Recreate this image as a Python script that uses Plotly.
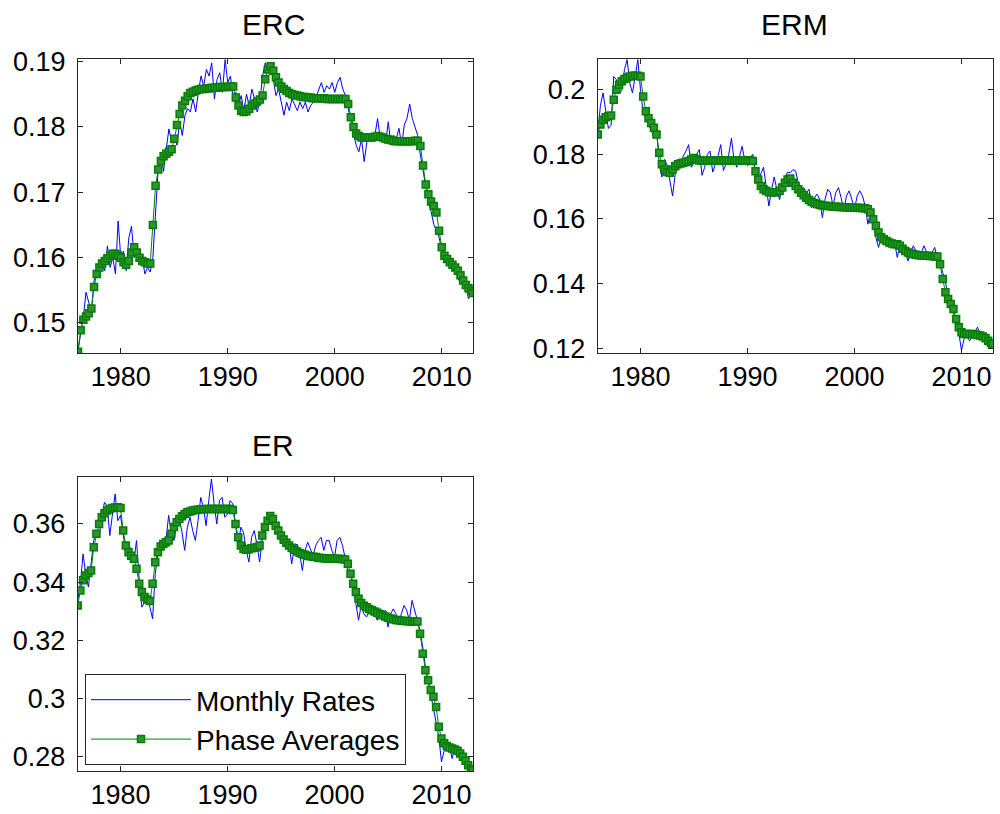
import plotly.graph_objects as go

# ---------------- data (quarterly readings, Jan 1976 .. Dec 2012) ----------------
YEARS = [1976 + q / 4 for q in range(148)] + [2012 + 11 / 12]

ERC_MONTHLY = [
    0.1458, 0.1485, 0.1510, 0.1547,  # 1976
    0.1530, 0.1517, 0.1565, 0.1575,  # 1977
    0.1575, 0.1590, 0.1580, 0.1618,  # 1978
    0.1585, 0.1600, 0.1575, 0.1656,  # 1979
    0.1600, 0.1610, 0.1580, 0.1630,  # 1980
    0.1648, 0.1600, 0.1610, 0.1590,  # 1981
    0.1600, 0.1575, 0.1585, 0.1578,  # 1982
    0.1600, 0.1661, 0.1737, 0.1757,  # 1983
    0.1732, 0.1767, 0.1797, 0.1777,  # 1984
    0.1787, 0.1772, 0.1808, 0.1787,  # 1985
    0.1818, 0.1828, 0.1823, 0.1843,  # 1986
    0.1823, 0.1853, 0.1878, 0.1863,  # 1987
    0.1888, 0.1878, 0.1898, 0.1843,  # 1988
    0.1873, 0.1883, 0.1853, 0.1903,  # 1989
    0.1868, 0.1878, 0.1843, 0.1853,  # 1990
    0.1833, 0.1848, 0.1825, 0.1850,  # 1991
    0.1833, 0.1858, 0.1843, 0.1823,  # 1992
    0.1838, 0.1878, 0.1898, 0.1888,  # 1993
    0.1888, 0.1873, 0.1848, 0.1858,  # 1994
    0.1838, 0.1818, 0.1838, 0.1825,  # 1995
    0.1843, 0.1833, 0.1825, 0.1838,  # 1996
    0.1828, 0.1838, 0.1823, 0.1833,  # 1997
    0.1838, 0.1846, 0.1858, 0.1868,  # 1998
    0.1853, 0.1863, 0.1858, 0.1868,  # 1999
    0.1853, 0.1868, 0.1876, 0.1858,  # 2000
    0.1848, 0.1828, 0.1808, 0.1793,  # 2001
    0.1772, 0.1762, 0.1782, 0.1747,  # 2002
    0.1777, 0.1785, 0.1782, 0.1787,  # 2003
    0.1813, 0.1782, 0.1787, 0.1775,  # 2004
    0.1808, 0.1772, 0.1787, 0.1782,  # 2005
    0.1798, 0.1772, 0.1803, 0.1813,  # 2006
    0.1835, 0.1813, 0.1800, 0.1787,  # 2007
    0.1757, 0.1732, 0.1707, 0.1686,  # 2008
    0.1671, 0.1651, 0.1641, 0.1631,  # 2009
    0.1611, 0.1598, 0.1601, 0.1590,  # 2010
    0.1580, 0.1585, 0.1570, 0.1560,  # 2011
    0.1565, 0.1555, 0.1537, 0.1545,  # 2012
    0.1550,
]
ERC_PHASE = [
    0.1456, 0.1489, 0.1505, 0.1510,  # 1976
    0.1515, 0.1522, 0.1555, 0.1575,  # 1977
    0.1585, 0.1591, 0.1595, 0.1599,  # 1978
    0.1603, 0.1606, 0.1606, 0.1603,  # 1979
    0.1600, 0.1593, 0.1589, 0.1595,  # 1980
    0.1608, 0.1616, 0.1608, 0.1600,  # 1981
    0.1595, 0.1593, 0.1591, 0.1591,  # 1982
    0.1650, 0.1710, 0.1735, 0.1748,  # 1983
    0.1755, 0.1759, 0.1762, 0.1766,  # 1984
    0.1782, 0.1803, 0.1820, 0.1833,  # 1985
    0.1840, 0.1847, 0.1852, 0.1854,  # 1986
    0.1856, 0.1857, 0.1858, 0.1858,  # 1987
    0.1859, 0.1859, 0.1860, 0.1860,  # 1988
    0.1860, 0.1861, 0.1861, 0.1861,  # 1989
    0.1861, 0.1862, 0.1862, 0.1845,  # 1990
    0.1833, 0.1825, 0.1823, 0.1824,  # 1991
    0.1828, 0.1833, 0.1836, 0.1839,  # 1992
    0.1842, 0.1848, 0.1873, 0.1888,  # 1993
    0.1893, 0.1886, 0.1876, 0.1868,  # 1994
    0.1862, 0.1858, 0.1855, 0.1852,  # 1995
    0.1850, 0.1849, 0.1848, 0.1847,  # 1996
    0.1846, 0.1846, 0.1845, 0.1845,  # 1997
    0.1844, 0.1844, 0.1844, 0.1844,  # 1998
    0.1844, 0.1843, 0.1843, 0.1843,  # 1999
    0.1843, 0.1843, 0.1843, 0.1843,  # 2000
    0.1843, 0.1835, 0.1815, 0.1800,  # 2001
    0.1790, 0.1786, 0.1784, 0.1784,  # 2002
    0.1784, 0.1784, 0.1784, 0.1785,  # 2003
    0.1786, 0.1785, 0.1784, 0.1782,  # 2004
    0.1781, 0.1780, 0.1779, 0.1778,  # 2005
    0.1778, 0.1778, 0.1778, 0.1778,  # 2006
    0.1778, 0.1778, 0.1779, 0.1779,  # 2007
    0.1771, 0.1741, 0.1712, 0.1697,  # 2008
    0.1686, 0.1679, 0.1669, 0.1641,  # 2009
    0.1616, 0.1603, 0.1598, 0.1593,  # 2010
    0.1589, 0.1585, 0.1580, 0.1573,  # 2011
    0.1565, 0.1558, 0.1553, 0.1549,  # 2012
    0.1546,
]

ERM_MONTHLY = [
    0.1860, 0.1950, 0.1990, 0.1935,  # 1976
    0.1880, 0.1890, 0.2041, 0.2031,  # 1977
    0.1990, 0.1997, 0.2062, 0.2093,  # 1978
    0.2020, 0.1990, 0.2050, 0.2093,  # 1979
    0.2000, 0.1928, 0.1912, 0.1890,  # 1980
    0.1877, 0.1850, 0.1877, 0.1770,  # 1981
    0.1730, 0.1784, 0.1765, 0.1720,  # 1982
    0.1671, 0.1740, 0.1785, 0.1770,  # 1983
    0.1795, 0.1810, 0.1830, 0.1760,  # 1984
    0.1774, 0.1800, 0.1815, 0.1735,  # 1985
    0.1760, 0.1800, 0.1810, 0.1745,  # 1986
    0.1770, 0.1795, 0.1830, 0.1750,  # 1987
    0.1770, 0.1800, 0.1850, 0.1780,  # 1988
    0.1760, 0.1790, 0.1825, 0.1780,  # 1989
    0.1765, 0.1790, 0.1800, 0.1740,  # 1990
    0.1720, 0.1740, 0.1760, 0.1700,  # 1991
    0.1640, 0.1690, 0.1730, 0.1690,  # 1992
    0.1660, 0.1700, 0.1730, 0.1745,  # 1993
    0.1743, 0.1753, 0.1748, 0.1712,  # 1994
    0.1692, 0.1697, 0.1681, 0.1692,  # 1995
    0.1635, 0.1666, 0.1677, 0.1661,  # 1996
    0.1604, 0.1661, 0.1692, 0.1681,  # 1997
    0.1640, 0.1681, 0.1697, 0.1666,  # 1998
    0.1625, 0.1671, 0.1687, 0.1661,  # 1999
    0.1630, 0.1671, 0.1687, 0.1671,  # 2000
    0.1640, 0.1584, 0.1620, 0.1589,  # 2001
    0.1543, 0.1512, 0.1543, 0.1532,  # 2002
    0.1517, 0.1532, 0.1512, 0.1527,  # 2003
    0.1481, 0.1517, 0.1506, 0.1496,  # 2004
    0.1470, 0.1496, 0.1517, 0.1501,  # 2005
    0.1481, 0.1496, 0.1517, 0.1496,  # 2006
    0.1481, 0.1496, 0.1512, 0.1476,  # 2007
    0.1460, 0.1434, 0.1404, 0.1363,  # 2008
    0.1332, 0.1311, 0.1280, 0.1249,  # 2009
    0.1193, 0.1229, 0.1239, 0.1223,  # 2010
    0.1234, 0.1249, 0.1265, 0.1244,  # 2011
    0.1234, 0.1239, 0.1229, 0.1218,  # 2012
    0.1208,
]
ERM_PHASE = [
    0.1861, 0.1892, 0.1907, 0.1915,  # 1976
    0.1918, 0.1920, 0.1969, 0.2000,  # 1977
    0.2015, 0.2026, 0.2033, 0.2038,  # 1978
    0.2041, 0.2043, 0.2043, 0.2043,  # 1979
    0.2041, 0.1979, 0.1933, 0.1912,  # 1980
    0.1897, 0.1882, 0.1861, 0.1805,  # 1981
    0.1769, 0.1753, 0.1745, 0.1743,  # 1982
    0.1753, 0.1763, 0.1769, 0.1772,  # 1983
    0.1774, 0.1776, 0.1779, 0.1784,  # 1984
    0.1789, 0.1784, 0.1781, 0.1780,  # 1985
    0.1780, 0.1780, 0.1781, 0.1781,  # 1986
    0.1781, 0.1781, 0.1781, 0.1781,  # 1987
    0.1781, 0.1781, 0.1781, 0.1781,  # 1988
    0.1781, 0.1781, 0.1781, 0.1781,  # 1989
    0.1781, 0.1781, 0.1779, 0.1748,  # 1990
    0.1722, 0.1702, 0.1692, 0.1687,  # 1991
    0.1683, 0.1683, 0.1683, 0.1683,  # 1992
    0.1687, 0.1697, 0.1712, 0.1722,  # 1993
    0.1725, 0.1712, 0.1702, 0.1692,  # 1994
    0.1681, 0.1673, 0.1666, 0.1659,  # 1995
    0.1653, 0.1649, 0.1646, 0.1644,  # 1996
    0.1642, 0.1641, 0.1640, 0.1639,  # 1997
    0.1638, 0.1638, 0.1637, 0.1637,  # 1998
    0.1636, 0.1636, 0.1635, 0.1635,  # 1999
    0.1635, 0.1635, 0.1634, 0.1634,  # 2000
    0.1633, 0.1630, 0.1620, 0.1599,  # 2001
    0.1579, 0.1558, 0.1543, 0.1537,  # 2002
    0.1532, 0.1527, 0.1524, 0.1522,  # 2003
    0.1522, 0.1517, 0.1508, 0.1501,  # 2004
    0.1496, 0.1493, 0.1491, 0.1489,  # 2005
    0.1488, 0.1487, 0.1486, 0.1486,  # 2006
    0.1485, 0.1485, 0.1484, 0.1484,  # 2007
    0.1460, 0.1414, 0.1373, 0.1352,  # 2008
    0.1337, 0.1321, 0.1290, 0.1265,  # 2009
    0.1249, 0.1244, 0.1244, 0.1244,  # 2010
    0.1244, 0.1243, 0.1241, 0.1239,  # 2011
    0.1236, 0.1231, 0.1223, 0.1216,  # 2012
    0.1213,
]

ER_MONTHLY = [
    0.3337, 0.3394, 0.3497, 0.3429,  # 1976
    0.3383, 0.3463, 0.3543, 0.3577,  # 1977
    0.3554, 0.3623, 0.3674, 0.3663,  # 1978
    0.3560, 0.3634, 0.3703, 0.3611,  # 1979
    0.3629, 0.3566, 0.3497, 0.3531,  # 1980
    0.3509, 0.3474, 0.3543, 0.3406,  # 1981
    0.3314, 0.3331, 0.3360, 0.3314,  # 1982
    0.3274, 0.3429, 0.3497, 0.3509,  # 1983
    0.3520, 0.3543, 0.3629, 0.3571,  # 1984
    0.3543, 0.3600, 0.3617, 0.3571,  # 1985
    0.3509, 0.3589, 0.3623, 0.3577,  # 1986
    0.3543, 0.3611, 0.3691, 0.3657,  # 1987
    0.3594, 0.3680, 0.3754, 0.3669,  # 1988
    0.3600, 0.3680, 0.3691, 0.3623,  # 1989
    0.3634, 0.3680, 0.3669, 0.3600,  # 1990
    0.3526, 0.3589, 0.3571, 0.3509,  # 1991
    0.3469, 0.3554, 0.3577, 0.3531,  # 1992
    0.3469, 0.3543, 0.3577, 0.3623,  # 1993
    0.3634, 0.3600, 0.3594, 0.3583,  # 1994
    0.3531, 0.3549, 0.3554, 0.3531,  # 1995
    0.3463, 0.3520, 0.3531, 0.3497,  # 1996
    0.3440, 0.3509, 0.3537, 0.3514,  # 1997
    0.3491, 0.3526, 0.3543, 0.3554,  # 1998
    0.3509, 0.3543, 0.3543, 0.3509,  # 1999
    0.3486, 0.3543, 0.3554, 0.3526,  # 2000
    0.3486, 0.3440, 0.3429, 0.3383,  # 2001
    0.3326, 0.3269, 0.3320, 0.3291,  # 2002
    0.3280, 0.3303, 0.3320, 0.3291,  # 2003
    0.3269, 0.3308, 0.3286, 0.3303,  # 2004
    0.3246, 0.3291, 0.3308, 0.3291,  # 2005
    0.3257, 0.3291, 0.3320, 0.3303,  # 2006
    0.3269, 0.3337, 0.3303, 0.3269,  # 2007
    0.3234, 0.3177, 0.3109, 0.3063,  # 2008
    0.3017, 0.2971, 0.2926, 0.2869,  # 2009
    0.2783, 0.2823, 0.2857, 0.2834,  # 2010
    0.2794, 0.2834, 0.2823, 0.2800,  # 2011
    0.2794, 0.2777, 0.2766, 0.2754,  # 2012
    0.2749,
]
ER_PHASE = [
    0.3320, 0.3371, 0.3406, 0.3423,  # 1976
    0.3431, 0.3440, 0.3520, 0.3566,  # 1977
    0.3600, 0.3623, 0.3637, 0.3646,  # 1978
    0.3651, 0.3655, 0.3656, 0.3657,  # 1979
    0.3655, 0.3577, 0.3526, 0.3503,  # 1980
    0.3491, 0.3480, 0.3446, 0.3394,  # 1981
    0.3366, 0.3349, 0.3340, 0.3335,  # 1982
    0.3394, 0.3468, 0.3503, 0.3522,  # 1983
    0.3531, 0.3537, 0.3543, 0.3566,  # 1984
    0.3589, 0.3606, 0.3617, 0.3626,  # 1985
    0.3634, 0.3640, 0.3643, 0.3646,  # 1986
    0.3648, 0.3649, 0.3650, 0.3650,  # 1987
    0.3651, 0.3651, 0.3651, 0.3651,  # 1988
    0.3651, 0.3651, 0.3651, 0.3651,  # 1989
    0.3651, 0.3651, 0.3648, 0.3600,  # 1990
    0.3554, 0.3526, 0.3514, 0.3511,  # 1991
    0.3513, 0.3516, 0.3518, 0.3520,  # 1992
    0.3526, 0.3560, 0.3589, 0.3611,  # 1993
    0.3627, 0.3617, 0.3594, 0.3577,  # 1994
    0.3560, 0.3546, 0.3535, 0.3526,  # 1995
    0.3518, 0.3511, 0.3505, 0.3500,  # 1996
    0.3497, 0.3494, 0.3491, 0.3489,  # 1997
    0.3487, 0.3486, 0.3484, 0.3483,  # 1998
    0.3482, 0.3481, 0.3481, 0.3480,  # 1999
    0.3480, 0.3480, 0.3479, 0.3479,  # 2000
    0.3478, 0.3463, 0.3429, 0.3394,  # 2001
    0.3366, 0.3343, 0.3328, 0.3319,  # 2002
    0.3314, 0.3308, 0.3303, 0.3299,  # 2003
    0.3295, 0.3290, 0.3286, 0.3282,  # 2004
    0.3278, 0.3275, 0.3272, 0.3270,  # 2005
    0.3269, 0.3267, 0.3266, 0.3266,  # 2006
    0.3265, 0.3265, 0.3265, 0.3265,  # 2007
    0.3223, 0.3154, 0.3097, 0.3063,  # 2008
    0.3029, 0.3006, 0.2971, 0.2903,  # 2009
    0.2863, 0.2846, 0.2837, 0.2832,  # 2010
    0.2828, 0.2825, 0.2821, 0.2811,  # 2011
    0.2800, 0.2786, 0.2771, 0.2760,  # 2012
    0.2754,
]

TITLES = ["ERC", "ERM", "ER"]
X_TICKS = [1980, 1990, 2000, 2010]
ERC_TICKS = [0.15, 0.16, 0.17, 0.18, 0.19]
ERM_TICKS = [0.12, 0.14, 0.16, 0.18, 0.2]
ER_TICKS = [0.28, 0.3, 0.32, 0.34, 0.36]
Y_RANGES = [[0.1454, 0.1904], [0.1185, 0.2095], [0.2751, 0.3760]]
X_RANGE = [1976, 2012.92]

# ---------------- styling ----------------
FONT = "Liberation Sans, Arial, sans-serif"
BLUE = "rgb(0,0,255)"
GREEN = "rgb(0,128,0)"
AXC = "#262626"

fig = go.Figure()

series = [(ERC_MONTHLY, ERC_PHASE), (ERM_MONTHLY, ERM_PHASE), (ER_MONTHLY, ER_PHASE)]
for i, (monthly, phase) in enumerate(series):
    ax = "" if i == 0 else str(i + 1)
    show = i == 2
    fig.add_trace(go.Scatter(
        x=YEARS, y=monthly, mode="lines", name="Monthly Rates",
        line=dict(color=BLUE, width=1), xaxis="x" + ax, yaxis="y" + ax,
        showlegend=show))
    fig.add_trace(go.Scatter(
        x=YEARS, y=phase, mode="lines+markers", name="Phase Averages",
        line=dict(color=GREEN, width=1),
        marker=dict(symbol="square", size=7, color="rgb(50,145,50)",
                    line=dict(color=GREEN, width=1.5)),
        xaxis="x" + ax, yaxis="y" + ax, showlegend=show))

common = dict(showline=True, linecolor=AXC, linewidth=1, mirror="ticks",
              ticks="inside", ticklen=5, tickcolor=AXC, tickwidth=1,
              showgrid=False, zeroline=False, automargin=False,
              tickfont=dict(family=FONT, size=27, color="black"))

doms_x = [[0.078, 0.473], [0.5977, 0.9927], [0.0777, 0.4727]]
doms_y = [[0.5663, 0.9275], [0.5663, 0.9275], [0.0528, 0.4136]]
yticks = [ERC_TICKS, ERM_TICKS, ER_TICKS]

def fmt(v):
    return ("%.2f" % v).rstrip("0").rstrip(".")

layout = dict(
    width=1000, height=814, margin=dict(l=0, r=0, t=0, b=0),
    paper_bgcolor="white", plot_bgcolor="white",
    font=dict(family=FONT, color="black"),
    legend=dict(x=0.085, y=1 - 674 / 814, xanchor="left", yanchor="top",
                bgcolor="white", bordercolor=AXC, borderwidth=1,
                font=dict(family=FONT, size=28, color="black"),
                itemwidth=100, tracegroupgap=0),
)
for i in range(3):
    ax = "" if i == 0 else str(i + 1)
    layout["xaxis" + ax] = dict(common, domain=doms_x[i], range=X_RANGE,
                                 tickvals=X_TICKS, ticklabelstandoff=0,
                                 anchor="y" + ax)
    layout["yaxis" + ax] = dict(common, domain=doms_y[i], range=Y_RANGES[i],
                                 tickvals=yticks[i],
                                 ticktext=[fmt(v) for v in yticks[i]],
                                 ticklabelstandoff=6, anchor="x" + ax)

fig.update_layout(**layout)

title_pos = [(0.273, 1 - 25 / 814), (0.794, 1 - 25 / 814), (0.2725, 1 - 445 / 814)]
for t, (tx, ty) in zip(TITLES, title_pos):
    fig.add_annotation(text=t, x=tx, y=ty, xref="paper", yref="paper",
                       xanchor="center", yanchor="middle", showarrow=False,
                       font=dict(family=FONT, size=30, color="black"))

fig.write_html("out.html")
